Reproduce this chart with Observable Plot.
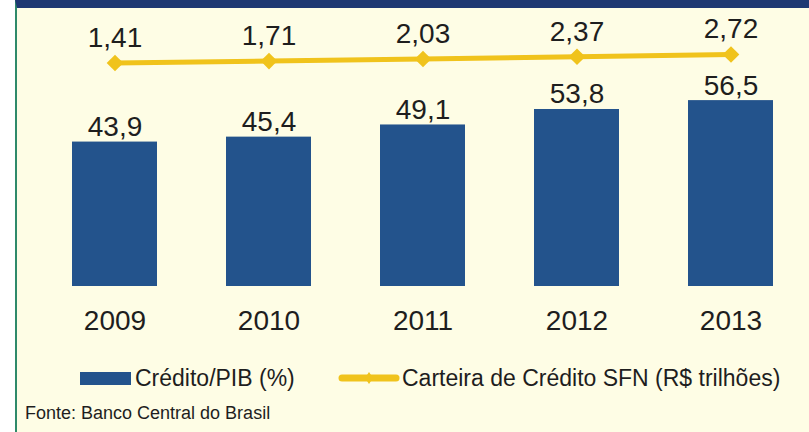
<!DOCTYPE html>
<html>
<head>
<meta charset="utf-8">
<script src="https://cdn.jsdelivr.net/npm/d3@7"></script>
<script src="https://cdn.jsdelivr.net/npm/@observablehq/plot@0.6"></script>
<style>
  html, body { margin: 0; padding: 0; background: #ffffff; }
  body { width: 809px; height: 432px; position: relative; overflow: hidden; font-family: "Liberation Sans", Arial, sans-serif; color: #1e1e1e; }
  #panel { position: absolute; left: 15px; top: 0; width: 792px; height: 424px; background: #fefde5; border-left: 2px solid #2f8a6a; border-top: 8px solid #1e3872; }
  .layer { position: absolute; left: 0; top: 0; }
  #legend { position: absolute; left: 80px; top: 362px; font-size: 23px; white-space: nowrap; }
  #caption { position: absolute; left: 25px; top: 403px; font-size: 18px; white-space: nowrap; }
</style>
</head>
<body>
<div id="panel"></div>
<div id="bars" class="layer"></div>
<div id="line" class="layer"></div>
<div id="legend"></div>
<div id="caption">Fonte: Banco Central do Brasil</div>
<script>
const years = ["2009", "2010", "2011", "2012", "2013"];
const creditoPIB = [43.9, 45.4, 49.1, 53.8, 56.5];
const carteiraSFN = [1.41, 1.71, 2.03, 2.37, 2.72];
const seriesNames = ["Crédito/PIB (%)", "Carteira de Crédito SFN (R$ trilhões)"];
const barColor = "#23538c";
const lineColor = "#f0c31c";
const textColor = "#1e1e1e";

const fmt = v => String(v.toFixed(v < 10 ? 2 : 1)).replace(".", ",");

const barData = years.map((y, i) => ({year: y, value: creditoPIB[i]}));
const lineData = years.map((y, i) => ({year: y, value: carteiraSFN[i]}));

const xScale = {type: "band", domain: years, range: [72, 773], paddingInner: 0.45, paddingOuter: 0};

const barPlot = Plot.plot({
  width: 809,
  height: 345,
  marginTop: 20,
  marginBottom: 59,
  style: {background: "transparent", fontFamily: "Liberation Sans, Arial, sans-serif", color: textColor, overflow: "visible"},
  x: {...xScale, label: null},
  y: {domain: [0, 60], range: [286, 88.6], axis: null},
  marks: [
    Plot.barY(barData, {x: "year", y: "value", fill: barColor}),
    Plot.text(barData, {x: "year", y: "value", text: d => fmt(d.value), dy: -15, fontSize: 28, fill: textColor, lineAnchor: "middle"}),
    Plot.axisX({tickSize: 0, tickPadding: 24, fontSize: 28, label: null, fill: textColor})
  ]
});
document.getElementById("bars").appendChild(barPlot);

const linePlot = Plot.plot({
  width: 809,
  height: 345,
  marginTop: 20,
  marginBottom: 59,
  style: {background: "transparent", fontFamily: "Liberation Sans, Arial, sans-serif", color: textColor, overflow: "visible"},
  x: {...xScale, axis: null},
  y: {domain: [1, 3], range: [65.2, 52.2], axis: null},
  marks: [
    Plot.lineY(lineData, {x: "year", y: "value", stroke: lineColor, strokeWidth: 5}),
    Plot.dot(lineData, {x: "year", y: "value", symbol: "diamond2", r: 7.5, fill: lineColor, stroke: "none"}),
    Plot.text(lineData, {x: "year", y: "value", text: d => fmt(d.value), dy: -25, fontSize: 28, fill: textColor, lineAnchor: "middle"})
  ]
});
document.getElementById("line").appendChild(linePlot);

// Legend
const legend = document.getElementById("legend");
legend.innerHTML = `
  <span style="position:absolute;left:0;top:10px;width:51px;height:13px;background:${barColor}"></span>
  <span style="position:absolute;left:55px;top:0;line-height:32px">${seriesNames[0]}</span>
  <svg style="position:absolute;left:258px;top:5px" width="62" height="22">
    <line x1="4" y1="11" x2="58" y2="11" stroke="${lineColor}" stroke-width="7" stroke-linecap="round"/>
    <path d="M31,5 L35,11 L31,17 L27,11 Z" fill="${lineColor}"/>
  </svg>
  <span style="position:absolute;left:322px;top:0;line-height:32px">${seriesNames[1]}</span>
`;
</script>
</body>
</html>
